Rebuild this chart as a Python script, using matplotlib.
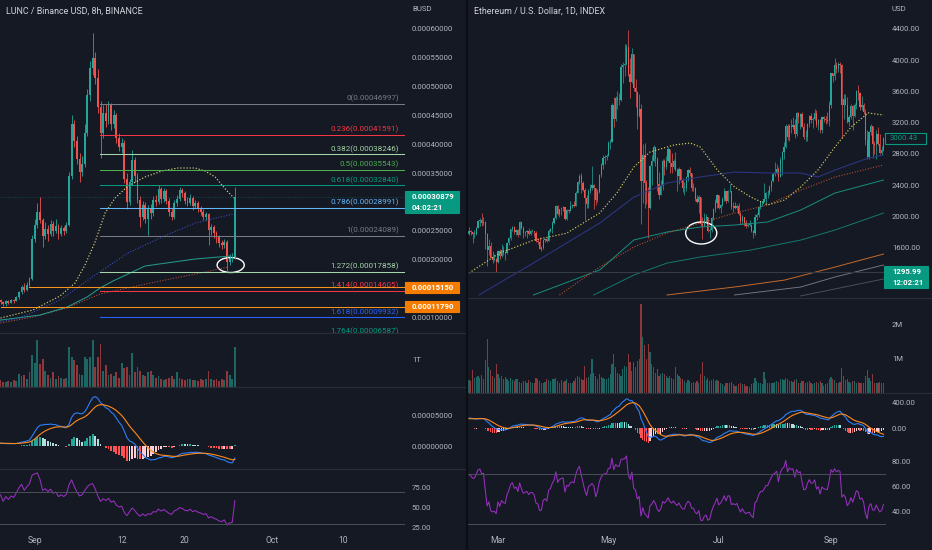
import numpy as np
import pandas as pd
import matplotlib
matplotlib.use("Agg")
import matplotlib.pyplot as plt
import matplotlib.transforms as mtransforms
from matplotlib.patches import Ellipse, Rectangle
from datetime import datetime, timedelta

plt.rcParams['font.family'] = ['Roboto', 'DejaVu Sans']

# ---------------- LUNC / BUSD, 8h (prices in 1e-5 BUSD) ----------------
lunc_warmup = [10.2, 10.4, 10.3, 10.6, 10.8, 10.7, 10.9, 11.2, 11.0, 11.3,
               11.5, 11.4, 11.2, 11.5, 11.8, 11.7, 12.0, 11.8, 12.1, 12.3,
               12.1, 12.4, 12.6, 12.4, 12.2, 12.5, 12.8, 12.6, 12.7, 12.9]
lunc_close = [12.6, 12.2, 12.7, 12.5, 12.9, 12.8, 13.4, 14.3, 15.2, 14.7,
              15.6, 16.6, 23.5, 26.0, 28.2, 26.8, 24.0, 25.3, 24.5, 26.2,
              25.0, 25.8, 24.4, 25.4, 24.9, 26.0, 34.5, 43.5, 40.5, 37.5,
              35.2, 36.5, 42.0, 48.5, 53.2, 55.0, 51.5, 46.5, 42.0, 45.5,
              44.0, 46.8, 43.5, 45.0, 41.0, 39.5, 40.2, 34.0, 30.0, 33.5,
              37.3, 34.5, 30.3, 27.4, 29.5, 27.0, 28.8, 28.0, 30.3, 30.0,
              32.3, 30.5, 31.8, 30.2, 28.2, 27.4, 29.8, 30.5, 32.0, 31.5,
              30.2, 29.8, 30.7, 29.2, 29.8, 28.8, 28.3, 27.4, 27.8, 25.1,
              25.6, 24.6, 24.0, 22.8, 22.5, 23.0, 19.6, 20.2, 20.4, 30.879]
lunc_high = [13.2, 12.8, 12.9, 13.0, 13.1, 13.2, 13.6, 14.6, 15.6, 15.9,
             16.0, 17.0, 24.2, 27.0, 29.8, 30.8, 27.2, 26.5, 26.0, 26.8,
             26.7, 27.0, 26.2, 25.9, 25.8, 26.5, 35.2, 45.0, 44.2, 41.5,
             38.5, 38.0, 43.5, 49.5, 54.5, 59.3, 56.0, 53.0, 47.5, 46.8,
             47.0, 47.5, 47.2, 46.0, 45.5, 42.0, 41.0, 40.8, 35.0, 34.0,
             39.0, 37.8, 35.0, 31.0, 30.2, 30.0, 29.5, 29.6, 31.0, 31.2,
             32.9, 32.6, 32.4, 32.2, 30.6, 28.9, 30.3, 31.2, 32.6, 32.4,
             31.8, 30.9, 31.3, 31.0, 30.4, 30.1, 29.2, 28.7, 28.3, 28.0,
             26.2, 25.9, 25.0, 24.3, 23.4, 23.5, 23.3, 21.0, 21.2, 32.6]
lunc_low = [12.3, 11.9, 12.0, 12.3, 12.4, 12.5, 12.7, 13.2, 14.0, 14.3,
            14.5, 15.4, 16.4, 23.0, 25.5, 26.3, 22.2, 23.6, 23.2, 24.0,
            24.1, 24.6, 23.5, 24.0, 24.2, 24.6, 25.8, 34.0, 39.5, 36.5,
            33.4, 34.5, 36.0, 41.5, 47.5, 52.0, 50.5, 45.5, 37.6, 41.0,
            43.0, 43.5, 42.5, 42.8, 40.2, 38.8, 38.5, 33.2, 28.8, 29.5,
            33.0, 33.5, 29.8, 25.6, 26.8, 26.3, 24.3, 27.0, 27.6, 29.2,
            29.6, 29.8, 30.0, 29.6, 27.6, 26.8, 27.0, 29.2, 30.1, 30.8,
            29.6, 29.3, 29.4, 28.6, 28.9, 28.3, 27.7, 26.9, 26.8, 22.5,
            24.3, 23.8, 22.9, 22.2, 21.8, 21.9, 17.8, 19.0, 19.6, 20.0]
lunc_volume = [0.25, 0.2, 0.18, 0.22, 0.2, 0.25, 0.22, 0.5, 0.4, 0.45,
               0.3, 0.55, 1.2, 0.9, 1.75, 0.85, 1.05, 0.6, 0.45, 0.35,
               0.55, 0.3, 0.4, 0.35, 0.3, 0.35, 1.5, 1.1, 1.0, 0.8,
               0.5, 0.45, 1.1, 1.05, 1.1, 1.75, 0.75, 1.1, 1.6, 0.6,
               0.8, 0.45, 0.5, 0.4, 0.55, 0.35, 0.9, 0.7, 0.75, 0.45,
               1.25, 0.55, 0.75, 0.6, 0.45, 0.4, 0.55, 0.6, 0.45, 0.35,
               0.4, 0.3, 0.25, 0.3, 0.35, 0.4, 0.3, 0.55, 0.35, 0.3,
               0.25, 0.3, 0.28, 0.25, 0.25, 0.22, 0.3, 0.25, 0.28, 0.6,
               0.3, 0.25, 0.3, 0.22, 0.3, 0.25, 0.6, 0.45, 0.3, 1.5]  # T

# moving averages (bar index, value 1e-5)
lunc_ma_yellow_bar = [0, 12.3, 22.6, 28.3, 32.1, 35.9, 39.7, 43.5, 48.4, 54.9, 61.3, 67.4, 73.9, 77.7, 81.5, 86.4, 88.7]
lunc_ma_yellow = [9.83, 11.22, 13.65, 15.9, 19.03, 23.02, 28.06, 30.66, 32.74, 34.31, 35.35, 35.87, 35.87, 35.35, 34.31, 31.7, 30.66]
lunc_ma_blue_bar = [0, 7.4, 22.6, 35.9, 48.4, 61.3, 73.9, 88.3]
lunc_ma_blue = [9.2, 9.83, 12.95, 17.29, 21.11, 23.89, 26.32, 27.88]
lunc_ma_teal_bar = [0, 15, 25.3, 32.9, 37.8, 42.7, 54.9, 73.9, 87.2]
lunc_ma_teal = [9.48, 10.35, 11.74, 13.48, 15.04, 16.25, 18.86, 20.07, 20.59]
lunc_ma_red_bar = [0, 12.3, 25.3, 37.8, 56.8, 77.7, 86.4]
lunc_ma_red = [8.96, 10.0, 11.57, 14.0, 15.9, 17.82, 18.68]

fib_ratios = [0, 0.236, 0.382, 0.5, 0.618, 0.786, 1, 1.272, 1.414, 1.618, 1.764]
fib_colors = ['#787b86', '#f23645', '#a5d6a7', '#4caf50', '#089981', '#64b5f6',
              '#787b86', '#a5d6a7', '#f23645', '#2962ff', '#089981']
fib_top = 0.00046997
fib_bottom = 0.00024089
lunc_rays = [0.00015150, 0.00011790]
lunc_ray_start = [10.8, 0]
lunc_last = 0.00030879

# ---------------- ETH / USD, 1D ----------------
eth_warmup = [730, 775, 980, 1040, 1100, 1210, 1225, 1225, 1280, 1260, 1090, 1045, 1130, 1220, 1170,
              1230, 1230, 1255, 1375, 1380, 1120, 1235, 1230, 1390, 1325, 1360, 1250, 1330, 1380, 1380,
              1315, 1370, 1510, 1660, 1590, 1720, 1680, 1615, 1750, 1770, 1745, 1785, 1780]
eth_close_feb = [1815, 1800, 1780, 1780, 1850, 1940, 1960, 1920, 1935, 1780, 1570, 1625, 1475, 1450, 1460, 1415]
eth_high_feb = [1870, 1825, 1800, 1825, 1865, 1960, 1975, 2040, 1990, 1945, 1785, 1710, 1675, 1560, 1525, 1470]
eth_low_feb = [1770, 1765, 1655, 1730, 1765, 1850, 1885, 1880, 1890, 1580, 1370, 1510, 1465, 1400, 1430, 1295]
eth_close_mar = [1565, 1490, 1575, 1540, 1530, 1655, 1720, 1835, 1870, 1800, 1825, 1770, 1925, 1850, 1790, 1805,
                 1820, 1780, 1810, 1810, 1785, 1690, 1680, 1590, 1595, 1700, 1715, 1690, 1820, 1845, 1920]
eth_high_mar = [1570, 1590, 1650, 1620, 1545, 1665, 1735, 1840, 1875, 1875, 1845, 1835, 1940, 1930, 1880, 1815,
                1830, 1855, 1830, 1845, 1815, 1810, 1725, 1740, 1625, 1710, 1730, 1720, 1835, 1855, 1945]
eth_low_mar = [1410, 1460, 1480, 1505, 1440, 1520, 1640, 1700, 1810, 1775, 1760, 1740, 1760, 1845, 1730, 1750,
               1720, 1770, 1760, 1800, 1735, 1680, 1650, 1580, 1555, 1590, 1680, 1670, 1685, 1800, 1790]
eth_close_apr = [1975, 2140, 2030, 2090, 2110, 2120, 1965, 2080, 2070, 2135, 2150, 2140, 2300, 2435, 2520,
                 2430, 2340, 2235, 2160, 2330, 2360, 2400, 2365, 2210, 2310, 2530, 2660, 2750, 2760, 2775]
eth_high_apr = [1990, 2145, 2145, 2095, 2120, 2140, 2125, 2090, 2100, 2195, 2160, 2200, 2320, 2460, 2540,
                2550, 2460, 2360, 2270, 2350, 2420, 2640, 2420, 2360, 2350, 2540, 2680, 2790, 2790, 2800]
eth_low_apr = [1910, 1970, 2020, 2000, 2020, 2070, 1950, 1960, 2050, 2065, 2110, 2120, 2135, 2300, 2410,
               2300, 2320, 1950, 2110, 2110, 2300, 2340, 2100, 2150, 2180, 2300, 2510, 2610, 2670, 2720]
eth_close_may = [2945, 2950, 3430, 3250, 3520, 3490, 3490, 3910, 3930, 3950, 4170, 3820, 3720, 4080, 3640, 3590,
                 3280, 3380, 2450, 2780, 2430, 2300, 2110, 2640, 2710, 2890, 2740, 2420, 2280, 2390, 2710]
eth_high_may = [2960, 2990, 3450, 3530, 3540, 3600, 3580, 3950, 3980, 4200, 4200, 4380, 4030, 4150, 4080, 3760,
                3600, 3560, 3440, 2930, 2940, 2470, 2380, 2660, 2780, 2910, 2890, 2760, 2570, 2470, 2730]
eth_low_may = [2770, 2860, 2950, 3150, 3220, 3380, 3420, 3480, 3700, 3800, 3930, 3800, 3520, 3710, 3600, 3400,
               3120, 3270, 1900, 2170, 2110, 2160, 1730, 2100, 2400, 2700, 2650, 2330, 2220, 2270, 2340]
eth_close_jun = [2630, 2710, 2860, 2690, 2630, 2710, 2590, 2520, 2610, 2470, 2370, 2370, 2510, 2590, 2550,
                 2370, 2370, 2230, 2180, 2250, 1900, 1880, 1970, 1990, 1810, 1830, 1980, 2090, 2170, 2280]
eth_high_jun = [2740, 2770, 2890, 2860, 2810, 2740, 2830, 2620, 2630, 2610, 2490, 2440, 2520, 2610, 2630,
                2550, 2430, 2380, 2270, 2280, 2250, 2000, 2040, 2030, 2000, 1860, 1990, 2110, 2230, 2290]
eth_low_jun = [2530, 2610, 2700, 2560, 2560, 2610, 2580, 2320, 2420, 2440, 2310, 2270, 2330, 2460, 2520,
               2330, 2320, 2200, 2170, 2050, 1880, 1710, 1880, 1920, 1800, 1730, 1800, 1950, 2060, 2110]
eth_close_jul = [2110, 2150, 2220, 2320, 2200, 2320, 2320, 2120, 2140, 2110, 2140, 2035, 1940, 1995, 1920, 1875,
                 1895, 1895, 1820, 1785, 1995, 2025, 2125, 2190, 2190, 2230, 2300, 2300, 2380, 2460, 2540]
eth_high_jul = [2280, 2160, 2250, 2370, 2320, 2340, 2410, 2320, 2190, 2180, 2160, 2170, 2060, 2020, 2000, 1950,
                1920, 1960, 1900, 1830, 2030, 2050, 2130, 2200, 2200, 2430, 2310, 2340, 2400, 2470, 2550]
eth_low_jul = [2090, 2040, 2130, 2200, 2170, 2190, 2310, 2090, 2060, 2090, 2080, 2020, 1910, 1900, 1880, 1850,
               1860, 1880, 1800, 1720, 1760, 1960, 1990, 2100, 2130, 2180, 2160, 2240, 2280, 2320, 2440]
eth_close_aug = [2560, 2610, 2500, 2725, 2830, 2890, 3160, 3010, 3160, 3140, 3165, 3050, 3320, 3270, 3310, 3150,
                 3010, 3020, 3180, 3290, 3230, 3240, 3320, 3170, 3230, 3100, 3270, 3240, 3230, 3225, 3430]
eth_high_aug = [2700, 2670, 2630, 2760, 2840, 2950, 3180, 3180, 3180, 3240, 3270, 3240, 3330, 3340, 3320, 3330,
                3200, 3110, 3190, 3300, 3320, 3270, 3370, 3360, 3250, 3250, 3280, 3290, 3290, 3330, 3470]
eth_low_aug = [2520, 2540, 2460, 2500, 2530, 2740, 2870, 2980, 2970, 3070, 3120, 3000, 3030, 3190, 3120, 3140,
               2990, 2960, 2960, 3150, 3200, 3130, 3230, 3150, 3110, 3070, 3070, 3210, 3180, 3200, 3160]
eth_close_sep = [3830, 3790, 3940, 3890, 3950, 3930, 3430, 3500, 3430, 3210, 3270, 3410, 3290, 3430, 3610,
                 3580, 3400, 3430, 3330, 2980, 2760, 3080, 3160, 2930, 2920, 3060, 2930, 2810, 2850, 3000.43]
eth_high_sep = [3840, 3840, 4020, 3970, 3980, 3970, 3950, 3560, 3560, 3530, 3300, 3440, 3420, 3450, 3620,
                3680, 3590, 3540, 3450, 3370, 3100, 3090, 3180, 3160, 2970, 3110, 3150, 3060, 2900, 3020]
eth_low_sep = [3390, 3720, 3740, 3830, 3850, 3830, 3000, 3250, 3420, 3200, 3160, 3250, 3100, 3270, 3370,
               3490, 3360, 3360, 3310, 2920, 2740, 2740, 3040, 2750, 2800, 2740, 2920, 2800, 2780, 2840]
eth_volume = [0.37, 0.35, 0.67, 0.45, 0.47, 0.5, 0.45, 0.52, 0.42, 0.96, 1.6, 0.75, 0.67, 0.5, 0.45, 0.86,
              0.55, 0.45, 0.5, 0.42, 0.48, 0.4, 0.35, 0.45, 0.38, 0.35, 0.42, 0.4, 0.33, 0.3, 0.36, 0.35,
              0.3, 0.38, 0.32, 0.3, 0.28, 0.45, 0.4, 0.35, 0.3, 0.28, 0.33, 0.4, 0.38, 0.35, 0.42,
              0.4, 0.45, 0.35, 0.3, 0.38, 0.32, 0.36, 0.4, 0.3, 0.28, 0.3, 0.35, 0.45, 0.5, 0.48,
              0.42, 0.38, 0.8, 0.45, 0.48, 0.55, 1.0, 0.6, 0.5, 0.42, 0.55, 0.48, 0.45, 0.4, 0.42,
              0.45, 0.55, 0.85, 1.15, 0.75, 0.6, 0.55, 0.5, 0.7, 0.8, 0.75, 1.15, 0.9, 0.65, 0.9, 0.75,
              0.95, 1.0, 2.6, 1.65, 1.4, 1.0, 1.45, 1.2, 0.85, 0.75, 0.6, 0.7, 0.5, 0.55, 0.6,
              0.55, 0.5, 0.45, 0.5, 0.45, 0.4, 0.76, 0.55, 0.5, 0.45, 0.4, 0.35, 0.3, 0.38, 0.35,
              0.3, 0.33, 0.3, 0.35, 0.3, 0.55, 0.9, 0.5, 0.38, 0.45, 0.35, 0.38, 0.4, 0.35, 0.38,
              0.35, 0.3, 0.25, 0.22, 0.28, 0.3, 0.28, 0.33, 0.25, 0.2, 0.2, 0.25, 0.28, 0.25, 0.27, 0.22,
              0.2, 0.18, 0.25, 0.3, 0.45, 0.35, 0.3, 0.28, 0.25, 0.62, 0.4, 0.3, 0.28, 0.3, 0.28,
              0.32, 0.35, 0.33, 0.4, 0.42, 0.38, 0.45, 0.42, 0.35, 0.36, 0.33, 0.38, 0.4, 0.3, 0.28, 0.36,
              0.35, 0.3, 0.33, 0.36, 0.28, 0.25, 0.3, 0.32, 0.3, 0.35, 0.28, 0.22, 0.25, 0.3, 0.42,
              0.48, 0.4, 0.38, 0.3, 0.28, 0.33, 0.72, 0.5, 0.38, 0.4, 0.33, 0.3, 0.35, 0.36, 0.3,
              0.33, 0.3, 0.28, 0.3, 0.5, 0.67, 0.45, 0.35, 0.57, 0.3, 0.3, 0.3, 0.32, 0.28, 0.3]  # M

eth_ma_yellow_bar = [0, 16.7, 35.6, 53.9, 72.2, 81.7, 91.1, 100, 113.3, 122.2, 127.8, 137.2, 146.7,
                     155.6, 165, 174.4, 183.3, 192.8, 202.2, 211.1, 220.6, 229]
eth_ma_yellow = [1278, 1530, 1697, 1786, 2045, 2300, 2632, 2824, 2914, 2939, 2888, 2594, 2377,
                 2250, 2147, 2211, 2377, 2594, 2888, 3144, 3323, 3297]
eth_ma_blue_bar = [5.6, 16.7, 35.6, 53.9, 72.2, 91.1, 109.4, 127.8, 146.7, 165, 183.3, 192.8, 202.2, 220.6, 229]
eth_ma_blue = [997, 1150, 1405, 1661, 1916, 2248, 2427, 2505, 2568, 2556, 2556, 2505, 2594, 2747, 2786]
eth_ma_red_bar = [50, 72.2, 91.1, 109.4, 127.8, 146.7, 165, 183.3, 202.2, 229]
eth_ma_red = [997, 1354, 1610, 1789, 1916, 2044, 2147, 2338, 2505, 2658]
eth_ma_teal1_bar = [35.6, 72.2, 91.1, 109.4, 127.8, 146.7, 165, 183.3, 202.2, 229]
eth_ma_teal1 = [997, 1316, 1700, 1802, 1866, 1891, 1930, 2083, 2300, 2466]
eth_ma_teal2_bar = [68.9, 91.1, 109.4, 127.8, 155.6, 183.3, 202.2, 229]
eth_ma_teal2 = [997, 1252, 1405, 1482, 1571, 1699, 1827, 2044]
eth_ma_orange_bar = [109.4, 146.7, 174.4, 202.2, 229]
eth_ma_orange = [997, 1099, 1188, 1354, 1520]
eth_ma_gray1_bar = [146.7, 183.3, 202.2, 229]
eth_ma_gray1 = [997, 1099, 1227, 1380]
eth_ma_gray2_bar = [183.3, 229]
eth_ma_gray2 = [985, 1201]
eth_line = 1295.99

# ---------------- style ----------------
BG = '#151924'
TXT = '#b2b5be'
SEP = '#2a2e39'
UP = '#26a69a'
DOWN = '#ef5350'
TAG = '#089981'
W, H = 932, 550

fig = plt.figure(figsize=(W / 100, H / 100), dpi=100, facecolor=BG)


def px_axes(x, y, w, h):
    ax = fig.add_axes([x / W, 1 - (y + h) / H, w / W, h / H])
    ax.set_facecolor(BG)
    for s in ax.spines.values():
        s.set_visible(False)
    ax.yaxis.tick_right()
    ax.tick_params(length=0, colors=TXT, labelsize=5.6, pad=5)
    ax.set_xticks([])
    return ax


def macd(close):
    s = pd.Series(close)
    m = s.ewm(span=12, adjust=False).mean() - s.ewm(span=26, adjust=False).mean()
    sig = m.ewm(span=9, adjust=False).mean()
    return m.to_numpy(), sig.to_numpy(), (m - sig).to_numpy()


def rsi(close, n=14):
    d = pd.Series(close).diff()
    up = d.clip(lower=0).ewm(alpha=1 / n, adjust=False).mean()
    dn = (-d.clip(upper=0)).ewm(alpha=1 / n, adjust=False).mean()
    return (100 - 100 / (1 + up / dn)).to_numpy()


def hist_colors(h):
    prev = np.r_[h[0], h[:-1]]
    return np.where(h >= 0, np.where(h >= prev, '#26a69a', '#b2dfdb'),
                    np.where(h < prev, '#ff5252', '#ffcdd2'))


def candles(ax, o, hi, lo, c, width, lw, min_body):
    x = np.arange(len(c))
    col = np.where(c >= o, UP, DOWN)
    ax.vlines(x, lo, hi, colors=col, linewidth=lw)
    ax.bar(x, np.maximum(np.abs(c - o), min_body), width, bottom=np.minimum(o, c),
           color=col, linewidth=0)
    return col


def panel(main, vol, mac, rs, o, hi, lo, c, v, warm, width, lw, min_body):
    col = candles(main, o, hi, lo, c, width, lw, min_body)
    x = np.arange(len(c))
    vol.bar(x, v, width, color=col, alpha=0.55, linewidth=0)
    full = np.r_[warm, c]
    m, s, h = [a[len(warm):] for a in macd(full)]
    mac.bar(x, h, width, color=hist_colors(h), linewidth=0)
    mac.plot(x, m, color='#2d7ff9', lw=0.8)
    mac.plot(x, s, color='#ff8a1c', lw=0.8)
    r = rsi(full)[len(warm):]
    rs.plot(x, r, color='#9830bf', lw=0.75)
    for lvl in (70, 30):
        rs.axhline(lvl, color='#4a4e5a', lw=0.7)


# ---------------- left panel ----------------
lm = px_axes(0, 0, 405, 333)
lv = px_axes(0, 333, 405, 54)
lmac = px_axes(0, 387, 405, 82)
lrs = px_axes(0, 469, 405, 61)

k = 1e-5
lc = np.array(lunc_close) * k
lo_ = np.r_[lunc_warmup[-1], lunc_close[:-1]] * k
panel(lm, lv, lmac, lrs, lo_, np.array(lunc_high) * k, np.array(lunc_low) * k, lc,
      np.array(lunc_volume), np.array(lunc_warmup) * k, 0.7, 0.6, 0.06 * k)

dotted = (0, (1, 1.6))
lm.plot(lunc_ma_red_bar, np.array(lunc_ma_red) * k, color='#c0513a', lw=0.75, ls=dotted)
lm.plot(lunc_ma_teal_bar, np.array(lunc_ma_teal) * k, color='#229a8b', lw=0.75)
lm.plot(lunc_ma_blue_bar, np.array(lunc_ma_blue) * k, color='#3f51c8', lw=0.75, ls=dotted)
lm.plot(lunc_ma_yellow_bar, np.array(lunc_ma_yellow) * k, color='#ddd67c', lw=0.85, ls=dotted)

xr = 153.6
fib_start = 37.8
label_off = mtransforms.offset_copy(lm.transData, fig=fig, y=1.2, units='points')
for ratio, color in zip(fib_ratios, fib_colors):
    level = fib_top - (fib_top - fib_bottom) * ratio
    lm.plot([fib_start, xr], [level, level], color=color, lw=0.75)
    lm.text(151.3, level, f"{ratio:g}({level:.8f})", color=color, fontsize=5.8,
            ha='right', va='bottom', transform=label_off, clip_on=True)
for price, start in zip(lunc_rays, lunc_ray_start):
    lm.plot([start, xr], [price, price], color='#f7931e', lw=0.75)
lm.axhline(lunc_last, color=TAG, lw=0.6, ls=(0, (1, 2)), alpha=0.5)
lm.add_patch(Ellipse((87.4, 19.03 * k), 10.3, 2.6 * k, fill=False, ec='white', lw=1.0))

# ticks hidden under the price tags are left out
l_ticks = [t * 5e-5 for t in (2, 4, 5, 7, 8, 9, 10, 11, 12)]
lm.set_xlim(-0.19, xr)
lm.set_ylim(7.23 * k, 65.03 * k)
lm.set_yticks(l_ticks)
lm.set_yticklabels([f"{t:.8f}" for t in l_ticks])
lv.set_xlim(-0.19, xr)
lv.set_ylim(0, 2.0)
lv.set_yticks([1])
lv.set_yticklabels(['1T'])
lmac.set_xlim(-0.19, xr)
lmac.set_ylim(-3.83 * k, 9.83 * k)
lmac.set_yticks([0, 5e-5])
lmac.set_yticklabels(['0.00000000', '0.00005000'])
lrs.set_xlim(-0.19, xr)
lrs.set_ylim(22.1, 98.4)
lrs.set_yticks([25, 50, 75])
lrs.set_yticklabels(['25.00', '50.00', '75.00'])

t0 = datetime(2022, 8, 27, 16)
l_dates = [datetime(2022, 9, 1), datetime(2022, 9, 12), datetime(2022, 9, 20),
           datetime(2022, 10, 1), datetime(2022, 10, 10)]
lrs.set_xticks([(d - t0) / timedelta(hours=8) for d in l_dates])
lrs.set_xticklabels(['Sep', '12', '20', 'Oct', '10'])
lrs.tick_params(axis='x', labelsize=6.2, pad=4.5)

# ---------------- right panel ----------------
rm = px_axes(468, 0, 418, 298)
rv = px_axes(468, 298, 418, 95)
rmac = px_axes(468, 393, 418, 57)
rrs = px_axes(468, 450, 418, 80)
for a in (rm, rv, rmac, rrs):
    a.tick_params(axis='y', pad=4.3)

ec = np.array(eth_close_feb + eth_close_mar + eth_close_apr + eth_close_may +
              eth_close_jun + eth_close_jul + eth_close_aug + eth_close_sep, dtype=float)
eh = np.array(eth_high_feb + eth_high_mar + eth_high_apr + eth_high_may +
              eth_high_jun + eth_high_jul + eth_high_aug + eth_high_sep, dtype=float)
el = np.array(eth_low_feb + eth_low_mar + eth_low_apr + eth_low_may +
              eth_low_jun + eth_low_jul + eth_low_aug + eth_low_sep, dtype=float)
eo = np.r_[eth_warmup[-1], ec[:-1]]
panel(rm, rv, rmac, rrs, eo, eh, el, ec, np.array(eth_volume), np.array(eth_warmup, dtype=float),
      0.65, 0.5, 6)

rm.plot(eth_ma_gray2_bar, eth_ma_gray2, color='#4f525c', lw=0.65)
rm.plot(eth_ma_gray1_bar, eth_ma_gray1, color='#777a84', lw=0.65)
rm.plot(eth_ma_orange_bar, eth_ma_orange, color='#c56a2c', lw=0.7)
rm.plot(eth_ma_teal2_bar, eth_ma_teal2, color='#13796d', lw=0.7)
rm.plot(eth_ma_teal1_bar, eth_ma_teal1, color='#1a8d7f', lw=0.7)
rm.plot(eth_ma_red_bar, eth_ma_red, color='#c0552f', lw=0.75, ls=dotted)
rm.plot(eth_ma_blue_bar, eth_ma_blue, color='#2c3684', lw=0.75)
rm.plot(eth_ma_yellow_bar, eth_ma_yellow, color='#d8cf5c', lw=0.85, ls=dotted)
rm.axhline(eth_line, color='#363a45', lw=0.8)
rm.add_patch(Ellipse((128.3, 1789), 17.2, 281, fill=False, ec='white', lw=1.0))

r_ticks = np.arange(1600, 4401, 400)
rxl = (-0.55, 230.4)
rm.set_xlim(*rxl)
rm.set_ylim(958.5, 4766.8)
rm.set_yticks(r_ticks)
rm.set_yticklabels([f"{t:.2f}" for t in r_ticks])
rv.set_xlim(*rxl)
rv.set_ylim(0, 2.79)
rv.set_yticks([1, 2])
rv.set_yticklabels(['1M', '2M'])
rmac.set_xlim(*rxl)
rmac.set_ylim(-334, 543)
rmac.set_yticks([0, 400])
rmac.set_yticklabels(['0.00', '400.00'])
rrs.set_xlim(*rxl)
rrs.set_ylim(25.6, 88.7)
rrs.set_yticks([40, 60, 80])
rrs.set_yticklabels(['40.00', '60.00', '80.00'])

e0 = datetime(2021, 2, 13)
r_dates = [datetime(2021, 3, 1), datetime(2021, 5, 1), datetime(2021, 7, 1), datetime(2021, 9, 1)]
rrs.set_xticks([(d - e0).days for d in r_dates])
rrs.set_xticklabels(['Mar', 'May', 'Jul', 'Sep'])
rrs.tick_params(axis='x', labelsize=6.2, pad=4.5)

# ---------------- overlay: separators, titles, price tags ----------------
ov = fig.add_axes([0, 0, 1, 1])
ov.set_xlim(0, W)
ov.set_ylim(H, 0)
ov.axis('off')
ov.set_zorder(5)
ov.patch.set_visible(False)

for y in (333, 387, 469):
    ov.plot([0, 466], [y, y], color=SEP, lw=0.8)
for y in (298, 393):
    ov.plot([468, W], [y, y], color=SEP, lw=0.8)
ov.plot([467, 467], [0, H], color='#0c0e14', lw=1.6)

ov.text(6, 11, 'LUNC / Binance USD, 8h, BINANCE', color='#d1d4dc', fontsize=6.4, va='center')
ov.text(474, 11, 'Ethereum / U.S. Dollar, 1D, INDEX', color='#d1d4dc', fontsize=6.4, va='center')
ov.text(412, 9, 'BUSD', color=TXT, fontsize=5.6, va='center')
ov.text(892, 9, 'USD', color=TXT, fontsize=5.6, va='center')


def price_tag(ax, price, x0, x1, tx, lines, fc, ec_, tc, weight='bold'):
    py = H - ax.transData.transform((0, price))[1]
    ov.add_patch(Rectangle((x0, py - 5.5), x1 - x0, 11 * len(lines), fc=fc, ec=ec_, lw=0.8))
    for i, s in enumerate(lines):
        ov.text(tx, py + 11 * i, s, color=tc, fontsize=5.6, fontweight=weight, va='center', ha='left')


price_tag(lm, lunc_last, 405, 459, 412, [f"{lunc_last:.8f}", '04:02:21'], TAG, TAG, 'white')
for price in lunc_rays:
    price_tag(lm, price, 405, 459, 412, [f"{price:.8f}"], '#f57c00', '#f57c00', 'white')
price_tag(rm, ec[-1], 885, 926, 890, [f"{ec[-1]:.2f}"], BG, TAG, TAG, 'normal')
price_tag(rm, eth_line, 884, 928, 892, [f"{eth_line:.2f}", '12:02:21'], TAG, TAG, 'white')

fig.savefig('out.png', dpi=100, facecolor=BG)
